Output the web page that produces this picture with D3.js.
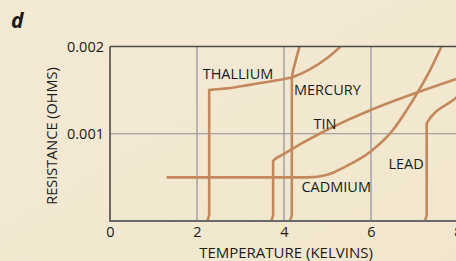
<!DOCTYPE html>
<html>
<head>
<meta charset="utf-8">
<script src="https://cdn.jsdelivr.net/npm/d3@7"></script>
<style>
  body { margin: 0; background: #f3e9d2; }
  text { font-family: "Open Sans", sans-serif; fill: #1b1b1b; }
</style>
</head>
<body>
<svg id="chart" width="456" height="261"></svg>
<script>
// resistance vs temperature
var xTicks = [0, 2, 4, 6, 8];
var yTicks = [0.001, 0.002];
var yTickLabels = ["0.001", "0.002"];

var thallium = [[2.23, 0], [2.28, 0.00007], [2.28, 0.0015], [2.7, 0.00152], [3.2, 0.00156],
    [3.8, 0.00161], [4.2, 0.00165], [4.6, 0.00174], [5.0, 0.00187], [5.3, 0.002]];
var mercury = [[4.13, 0], [4.18, 0.00007], [4.18, 0.00163], [4.25, 0.0018], [4.36, 0.002]];
var tin = [[3.70, 0], [3.75, 0.00007], [3.75, 0.00069], [3.97, 0.00076], [8.1, 0.00165]];
var cadmium = [[1.3, 0.0005], [4.55, 0.0005], [5.0, 0.00053], [5.4, 0.00062], [6.0, 0.0008],
    [6.45, 0.00101], [6.97, 0.00139], [7.35, 0.00172], [7.62, 0.002]];
var lead = [[7.23, 0], [7.28, 0.00007], [7.28, 0.00112], [7.95, 0.00141], [8.1, 0.00148]];

var series = [thallium, mercury, tin, cadmium, lead];
var names = ["THALLIUM", "MERCURY", "TIN", "CADMIUM", "LEAD"];
var labelAt = [[2.13, 0.00163], [4.23, 0.00144], [4.68, 0.00106], [4.4, 0.00033], [6.4, 0.0006]];

var svg = d3.select("#chart");
var margin = {left: 110, top: 46.5, bottom: 40};
var width = 456, height = 261;

var x = d3.scaleLinear().domain([0, 8]).range([margin.left, 458]);
var y = d3.scaleLinear().domain([0, 0.002]).range([height - margin.bottom, margin.top]);

// background
var grad = svg.append("defs").append("linearGradient")
    .attr("id", "bg").attr("x1", 0).attr("y1", 0).attr("x2", 1).attr("y2", 1);
grad.append("stop").attr("offset", 0).attr("stop-color", "#f4ead4");
grad.append("stop").attr("offset", 1).attr("stop-color", "#f1e6cd");
svg.append("rect").attr("width", width).attr("height", height).attr("fill", "url(#bg)");

svg.select("defs").append("clipPath").attr("id", "plot")
    .append("rect")
    .attr("x", x(0)).attr("y", y(0.002))
    .attr("width", width - x(0)).attr("height", y(0) - y(0.002));

// grid
svg.append("g").selectAll("line").data([2, 4, 6])
    .join("line")
    .attr("x1", d => x(d)).attr("x2", d => x(d))
    .attr("y1", y(0)).attr("y2", y(0.002))
    .attr("stroke", "#8f8f99").attr("stroke-width", 1.2);

svg.append("line")
    .attr("x1", x(0)).attr("x2", width)
    .attr("y1", y(0.001)).attr("y2", y(0.001))
    .attr("stroke", "#8f8f99").attr("stroke-width", 1.2);

// curves
var line = d3.line()
    .x(d => x(d[0]))
    .y(d => y(d[1]))
    .curve(d3.curveMonotoneX);

svg.append("g").attr("clip-path", "url(#plot)")
    .selectAll("path").data(series)
    .join("path")
    .attr("d", d => line(d))
    .attr("fill", "none")
    .attr("stroke", "#c3885b")
    .attr("stroke-width", 2.6);

// frame
svg.append("line")
    .attr("x1", x(0)).attr("x2", width)
    .attr("y1", y(0.002)).attr("y2", y(0.002))
    .attr("stroke", "#4a4a4a").attr("stroke-width", 1.6);
svg.append("line")
    .attr("x1", x(0)).attr("x2", x(0))
    .attr("y1", y(0.002)).attr("y2", y(0) + 1)
    .attr("stroke", "#4a4a4a").attr("stroke-width", 1.6);
svg.append("line")
    .attr("x1", x(0)).attr("x2", width)
    .attr("y1", y(0)).attr("y2", y(0))
    .attr("stroke", "#6a6a6a").attr("stroke-width", 2);

// axes labels
var xAxis = svg.append("g")
    .attr("transform", "translate(0," + y(0) + ")")
    .call(d3.axisBottom(x).tickValues(xTicks).tickSize(0).tickPadding(6).tickFormat(d3.format("d")));
xAxis.select(".domain").remove();
xAxis.selectAll("text").style("font-size", "14.5px").style("font-family", "'Open Sans', sans-serif").attr("fill", "#1b1b1b");

var yAxis = svg.append("g")
    .attr("transform", "translate(" + x(0) + ",0)")
    .call(d3.axisLeft(y).tickValues(yTicks).tickSize(0).tickPadding(6).tickFormat((d, i) => yTickLabels[i]));
yAxis.select(".domain").remove();
yAxis.selectAll("text").style("font-size", "14.5px").style("font-family", "'Open Sans', sans-serif").attr("fill", "#1b1b1b");

svg.append("text")
    .attr("x", 286).attr("y", 258)
    .attr("text-anchor", "middle")
    .attr("font-size", "15px")
    .text("TEMPERATURE (KELVINS)");

svg.append("text")
    .attr("transform", "translate(57,136) rotate(-90)")
    .attr("text-anchor", "middle")
    .attr("font-size", "14.5px")
    .text("RESISTANCE (OHMS)");

svg.append("g").selectAll("text").data(names)
    .join("text")
    .attr("x", (d, i) => x(labelAt[i][0]))
    .attr("y", (d, i) => y(labelAt[i][1]))
    .attr("font-size", "14.5px")
    .text(d => d);

svg.append("text")
    .attr("x", 11).attr("y", 28)
    .attr("font-size", "21px")
    .attr("font-weight", "bold")
    .attr("font-style", "italic")
    .text("d");
</script>
</body>
</html>
